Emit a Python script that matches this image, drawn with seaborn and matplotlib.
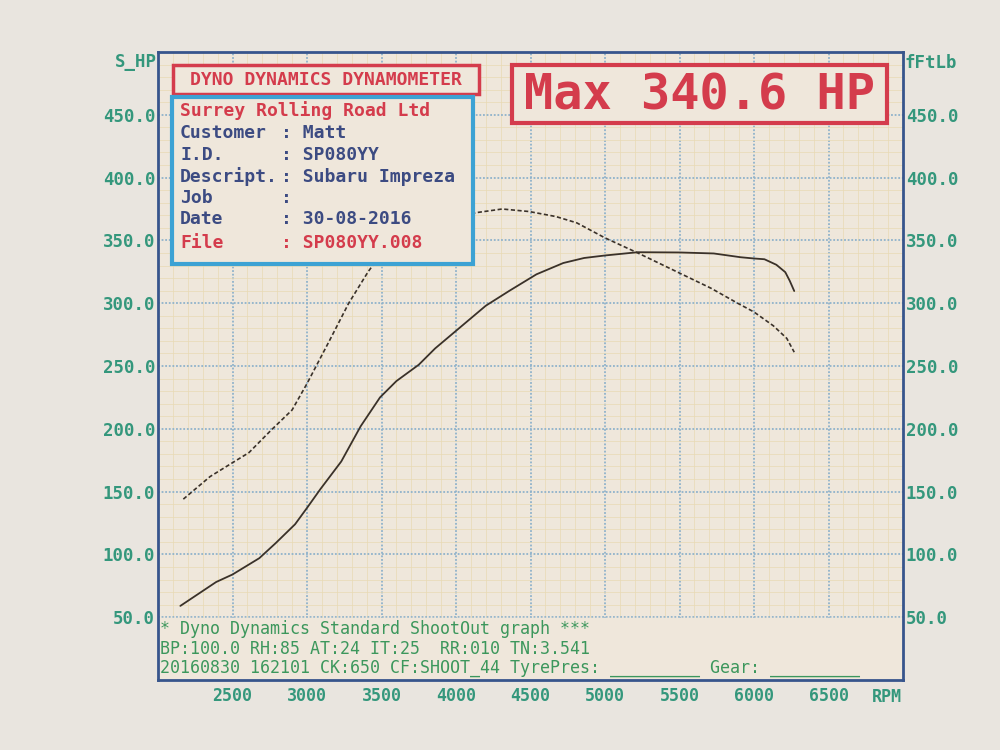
import matplotlib
matplotlib.use('Agg')
import matplotlib.pyplot as plt
from matplotlib.patches import Rectangle
import numpy as np
import pandas as pd
import seaborn as sns

# Power curve (solid)
power_rpm = [2150, 2390, 2500, 2680, 2790, 2920, 3000, 3090, 3230, 3360, 3490, 3600,
             3750, 3860, 4000, 4200, 4360, 4540, 4720, 4860, 5000, 5220, 5500, 5730,
             5910, 6000, 6070, 6150, 6210, 6240, 6270]
power_hp = [59, 78, 84, 97, 109, 124, 137, 152, 174, 202, 225, 238,
            251, 264, 278, 298, 310, 323, 332, 336, 338, 340.6, 340.4, 339.6,
            336.6, 335.6, 335, 330.6, 324.7, 317.8, 309.7]

# Torque curve (dashed)
torque_rpm = [2170, 2350, 2500, 2610, 2760, 2900, 3000, 3150, 3280, 3410, 3490, 3840,
              3970, 4130, 4310, 4490, 4670, 4810, 5000, 5220, 5500, 5710, 5890, 6000,
              6130, 6220, 6270]
torque_ftlb = [144, 162, 173, 181, 199, 215, 236, 270, 300, 325, 338, 356,
               366, 372, 375, 373, 369, 364, 352, 340, 324, 312, 300, 293,
               282, 272, 261]

rpm_ticks = [2500, 3000, 3500, 4000, 4500, 5000, 5500, 6000, 6500]
value_ticks = [50, 100, 150, 200, 250, 300, 350, 400, 450]

header = 'DYNO DYNAMICS DYNAMOMETER'
company = 'Surrey Rolling Road Ltd'
info_labels = ['Customer', 'I.D.', 'Descript.', 'Job', 'Date', 'File']
info_values = ['Matt', 'SP080YY', 'Subaru Impreza', '', '30-08-2016', 'SP080YY.008']
max_text = 'Max 340.6 HP'
footer = ['* Dyno Dynamics Standard ShootOut graph ***',
          'BP:100.0 RH:85 AT:24 IT:25  RR:010 TN:3.541',
          '20160830 162101 CK:650 CF:SHOOT_44 TyrePres: _________ Gear: _________']

RED = '#d43c4c'
BLUE = '#3ca2d4'
NAVY = '#3c4b82'
TEAL = '#34977c'
GREEN = '#3c975c'
FRAME = '#37558c'
INK = '#3a3129'
PAPER = '#efe7db'

sns.set_theme(style='white')
plt.rcParams['font.family'] = ['DejaVu Sans Mono']

W, H = 1000, 750
fig = plt.figure(figsize=(10, 7.5), dpi=100, facecolor='#e9e5df')


def fx(px):
    return px / W


def fy(py):
    return 1 - py / H


ax = fig.add_axes([fx(158), fy(680), fx(903) - fx(158), fy(52) - fy(680)])
ax.set_facecolor(PAPER)
ax.set_xlim(2000, 7000)
ax.set_ylim(0, 500)

# grid: blue dotted majors, faint yellow minors
ax.set_xticks(rpm_ticks)
ax.set_xticks(np.arange(2000, 7001, 100), minor=True)
ax.set_yticks(value_ticks)
ax.set_yticks(np.arange(0, 501, 10), minor=True)
ax.set_axisbelow(True)
ax.grid(which='minor', color='#e8d9b4', lw=0.5)
ax.grid(which='major', color='#8fb2cb', lw=1.3, ls=(0, (1, 1)))
ax.axhspan(0, 49, color=PAPER, zorder=1)

df_p = pd.DataFrame({'rpm': power_rpm, 'hp': power_hp})
sns.lineplot(data=df_p, x='rpm', y='hp', ax=ax, color=INK, lw=1.3, zorder=3)

ax2 = ax.twinx()
ax2.set_ylim(0, 500)
df_t = pd.DataFrame({'rpm': torque_rpm, 'tq': torque_ftlb})
sns.lineplot(data=df_t, x='rpm', y='tq', ax=ax2, color=INK, lw=1.2,
             linestyle=(0, (2.5, 1.5)), zorder=3)

ax.set_xlabel('')
ax.set_ylabel('')
ax2.set_ylabel('')
ax.set_xticklabels([str(v) for v in rpm_ticks])
ax.set_yticklabels([f'{v:.1f}' for v in value_ticks])
ax2.set_yticks(value_ticks)
ax2.set_yticklabels([f'{v:.1f}' for v in value_ticks])
ax.tick_params(which='both', length=0)
ax.tick_params(axis='x', pad=5, labelsize=12, labelcolor=TEAL)
ax.tick_params(axis='y', pad=2, labelsize=12.5, labelcolor=TEAL)
ax2.tick_params(which='both', length=0, pad=2, labelsize=12.5, labelcolor=TEAL)
for lab in ax.get_yticklabels() + ax2.get_yticklabels() + ax.get_xticklabels():
    lab.set_fontweight('bold')

for s in ax.spines.values():
    s.set_color(FRAME)
    s.set_linewidth(2)
for s in ax2.spines.values():
    s.set_visible(False)

# axis captions
fig.text(fx(157), fy(62), 'S_HP', ha='right', va='center', color=TEAL, fontsize=12.5, fontweight='bold')
fig.text(fx(905), fy(63), 'fFtLb', ha='left', va='center', color=TEAL, fontsize=12.5, fontweight='bold')
fig.text(fx(872), fy(697), 'RPM', ha='left', va='center', color=TEAL, fontsize=12, fontweight='bold')


def box(x0, y0, x1, y1, color, lw):
    fig.add_artist(Rectangle((fx(x0), fy(y1)), fx(x1) - fx(x0), fy(y0) - fy(y1),
                             transform=fig.transFigure, facecolor=PAPER,
                             edgecolor=color, lw=lw, zorder=5))


# header boxes
box(173, 65, 479, 94, RED, 2.5)
fig.text(fx(326), fy(80), header, ha='center', va='center', color=RED,
         fontsize=13, fontweight='bold', zorder=6)

box(172, 97, 473, 264, BLUE, 3)
fig.text(fx(180), fy(111), company, ha='left', va='center', color=RED,
         fontsize=13, fontweight='bold', zorder=6)
rows_y = [133, 155, 177, 198, 219, 243]
for i, (lab, val) in enumerate(zip(info_labels, info_values)):
    col = RED if lab == 'File' else NAVY
    fig.text(fx(180), fy(rows_y[i]), lab, ha='left', va='center', color=col,
             fontsize=13, fontweight='bold', zorder=6)
    fig.text(fx(281), fy(rows_y[i]), ': ' + val, ha='left', va='center', color=col,
             fontsize=13, fontweight='bold', zorder=6)

box(512, 65, 887, 123, RED, 3)
fig.text(fx(700), fy(95), max_text, ha='center', va='center', color=RED,
         fontsize=35, fontweight='bold', zorder=6)

# footer text inside the frame
for i, line in enumerate(footer):
    fig.text(fx(160), fy(629 + 19.5 * i), line, ha='left', va='center', color=GREEN,
             fontsize=12, zorder=6)

fig.savefig('out.png', dpi=100, facecolor=fig.get_facecolor())
